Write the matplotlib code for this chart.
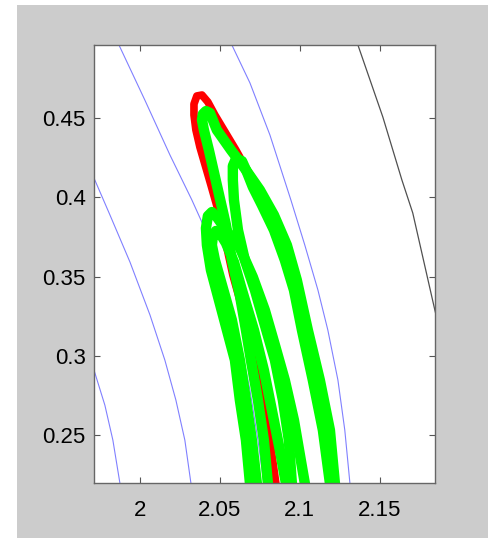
import matplotlib
matplotlib.use("Agg")
import matplotlib.pyplot as plt
from matplotlib.patches import Rectangle

plt.rcParams["font.family"] = ["Liberation Sans", "DejaVu Sans"]

# ---- thin level curves (blue) and the outer dark curve ----
blue_a_x = [1.9848, 1.9869, 2.0031, 2.0188, 2.0325, 2.0438, 2.0538, 2.0625, 2.0688, 2.0738, 2.0775, 2.0785]
blue_a_y = [0.5000, 0.4958, 0.4611, 0.4265, 0.3982, 0.3730, 0.3415, 0.3100, 0.2785, 0.2470, 0.2199, 0.2120]
blue_b_x = [2.0556, 2.0575, 2.0688, 2.0813, 2.0944, 2.1031, 2.1113, 2.1175, 2.1238, 2.1281, 2.1313, 2.1318]
blue_b_y = [0.5002, 0.4958, 0.4719, 0.4391, 0.3982, 0.3698, 0.3415, 0.3163, 0.2848, 0.2533, 0.2199, 0.2120]
blue_c_x = [1.9688, 1.9713, 1.9813, 1.9938, 2.0063, 2.0156, 2.0225, 2.0281, 2.0319, 2.0322]
blue_c_y = [0.4177, 0.4120, 0.3887, 0.3591, 0.3258, 0.2974, 0.2722, 0.2470, 0.2199, 0.2120]
blue_d_x = [1.9700, 1.9713, 1.9781, 1.9831, 1.9875, 1.9878]
blue_d_y = [0.2949, 0.2911, 0.2690, 0.2470, 0.2199, 0.2120]
dark_x = [2.1350, 2.1363, 2.1519, 2.1638, 2.1706, 2.1844, 2.1875]
dark_y = [0.5002, 0.4958, 0.4504, 0.4108, 0.3900, 0.3289, 0.3163]

# ---- red trajectory (one hairpin) ----
red_x = [2.0856, 2.0850, 2.0813, 2.0769, 2.0731, 2.0656, 2.0581, 2.0506, 2.0444, 2.0375,
         2.0350, 2.0338, 2.0338, 2.0356, 2.0388, 2.0425, 2.0469, 2.0525, 2.0600, 2.0663,
         2.0750, 2.0838, 2.0919, 2.0981, 2.1050, 2.1125, 2.1188, 2.1219, 2.1225]
red_y = [0.2124, 0.2199, 0.2470, 0.2785, 0.2974, 0.3239, 0.3509, 0.3856, 0.4076, 0.4315,
         0.4423, 0.4517, 0.4586, 0.4637, 0.4643, 0.4599, 0.4517, 0.4423, 0.4297, 0.4183,
         0.4045, 0.3887, 0.3698, 0.3478, 0.3163, 0.2848, 0.2533, 0.2199, 0.2124]

# ---- green trajectories (four nested hairpins) ----
green_a_x = [2.0806, 2.0800, 2.0775, 2.0738, 2.0694, 2.0663, 2.0625, 2.0575, 2.0538, 2.0488,
             2.0431, 2.0400, 2.0388, 2.0394, 2.0413, 2.0438, 2.0481, 2.0569, 2.0663, 2.0750,
             2.0838, 2.0919, 2.0981, 2.1050, 2.1125, 2.1188, 2.1219, 2.1225]
green_a_y = [0.2124, 0.2199, 0.2470, 0.2722, 0.2974, 0.3163, 0.3383, 0.3604, 0.3824, 0.4045,
             0.4297, 0.4423, 0.4486, 0.4523, 0.4542, 0.4530, 0.4423, 0.4297, 0.4171, 0.4045,
             0.3887, 0.3698, 0.3478, 0.3163, 0.2848, 0.2533, 0.2199, 0.2124]
green_b_x = [2.0950, 2.0950, 2.0931, 2.0894, 2.0844, 2.0781, 2.0719, 2.0656, 2.0613, 2.0588,
             2.0581, 2.0581, 2.0600, 2.0638, 2.0669, 2.0706, 2.0763, 2.0838, 2.0906, 2.0963,
             2.1013, 2.1081, 2.1144, 2.1188, 2.1194]
green_b_y = [0.2124, 0.2199, 0.2470, 0.2722, 0.2974, 0.3195, 0.3415, 0.3604, 0.3793, 0.3982,
             0.4108, 0.4196, 0.4240, 0.4227, 0.4158, 0.4064, 0.3950, 0.3793, 0.3604, 0.3415,
             0.3163, 0.2848, 0.2533, 0.2199, 0.2124]
green_c_x = [2.0688, 2.0688, 2.0663, 2.0625, 2.0594, 2.0544, 2.0494, 2.0444, 2.0419, 2.0413,
             2.0425, 2.0450, 2.0481, 2.0538, 2.0625, 2.0706, 2.0781, 2.0844, 2.0906, 2.0963,
             2.1006, 2.1031, 2.1038]
green_c_y = [0.2124, 0.2199, 0.2470, 0.2722, 0.2974, 0.3163, 0.3352, 0.3541, 0.3698, 0.3805,
             0.3881, 0.3906, 0.3875, 0.3793, 0.3680, 0.3497, 0.3289, 0.3069, 0.2848, 0.2596,
             0.2344, 0.2199, 0.2124]
green_d_x = [2.0731, 2.0731, 2.0700, 2.0663, 2.0625, 2.0575, 2.0513, 2.0469, 2.0450, 2.0456,
             2.0475, 2.0500, 2.0538, 2.0588, 2.0638, 2.0713, 2.0775, 2.0825, 2.0875, 2.0913,
             2.0919]
green_d_y = [0.2124, 0.2199, 0.2470, 0.2722, 0.2974, 0.3226, 0.3447, 0.3604, 0.3698, 0.3755,
             0.3787, 0.3774, 0.3711, 0.3591, 0.3415, 0.3163, 0.2911, 0.2659, 0.2407, 0.2199,
             0.2124]

x_ticks = [2.0, 2.05, 2.1, 2.15]
x_labels = ["2", "2.05", "2.1", "2.15"]
y_ticks = [0.25, 0.3, 0.35, 0.4, 0.45]
y_labels = ["0.25", "0.3", "0.35", "0.4", "0.45"]

fig = plt.figure(figsize=(4.95, 5.38), dpi=100, facecolor="white")
# grey MATLAB-style figure panel, kept behind the axes
fig.add_artist(Rectangle((0.0343, 0.0), 0.9515, 0.9907, transform=fig.transFigure,
                         facecolor="#cccccc", edgecolor="none", zorder=-10))
ax = fig.add_axes([0.1899, 0.1022, 0.6889, 0.8142])
ax.set_facecolor("white")

BLUE = "#8080ff"
for xs, ys in [(blue_a_x, blue_a_y), (blue_b_x, blue_b_y), (blue_c_x, blue_c_y), (blue_d_x, blue_d_y)]:
    ax.plot(xs, ys, color=BLUE, lw=0.8, zorder=1)
ax.plot(dark_x, dark_y, color="#505050", lw=0.9, zorder=1)

ax.plot(red_x, red_y, color="#ff0000", lw=5.5, solid_joinstyle="round",
        solid_capstyle="round", zorder=2)
for xs, ys in [(green_a_x, green_a_y), (green_b_x, green_b_y),
               (green_c_x, green_c_y), (green_d_x, green_d_y)]:
    ax.plot(xs, ys, color="#00ff00", lw=7.5, solid_joinstyle="round",
            solid_capstyle="round", zorder=3)

ax.set_xlim(1.9713, 2.1845)
ax.set_ylim(0.22, 0.4958)
ax.set_xticks(x_ticks)
ax.set_xticklabels(x_labels)
ax.set_yticks(y_ticks)
ax.set_yticklabels(y_labels)
ax.tick_params(direction="in", length=4, width=0.8, color="#555555",
               top=True, right=True, labelsize=16)
ax.tick_params(axis="x", pad=12)
ax.tick_params(axis="y", pad=6)
for s in ax.spines.values():
    s.set_color("#666666")
    s.set_linewidth(1.0)
    s.set_zorder(5)

fig.savefig("out.png", dpi=100, facecolor=fig.get_facecolor())
